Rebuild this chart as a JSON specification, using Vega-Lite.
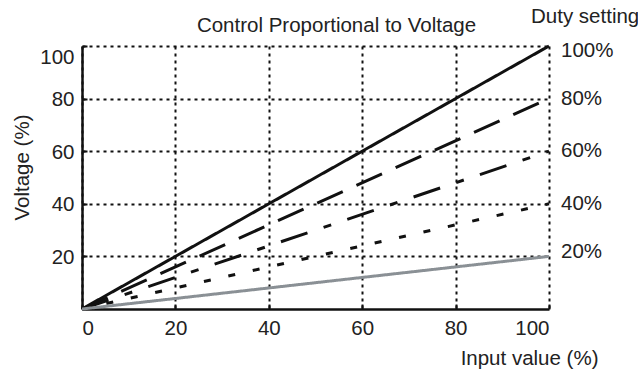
{
  "$schema": "https://vega.github.io/schema/vega-lite/v6.json",
  "width": 467,
  "height": 263,
  "autosize": {"type": "none"},
  "padding": {"left": 82, "top": 46, "right": 89, "bottom": 68},
  "background": "white",
  "config": {
    "font": "Liberation Sans",
    "view": {"stroke": null},
    "axis": {
      "grid": true,
      "gridDash": [3, 4],
      "gridColor": "#111111",
      "gridWidth": 2,
      "gridOpacity": 1,
      "domainColor": "#111111",
      "domainWidth": 2.5,
      "tickColor": "#111111",
      "tickWidth": 2,
      "tickSize": -5,
      "labelFont": "Liberation Sans",
      "labelFontSize": 20.5,
      "labelColor": "#222222",
      "titleFont": "Liberation Sans",
      "titleFontSize": 20.5,
      "titleFontWeight": "normal",
      "titleColor": "#222222"
    }
  },
  "title": {
    "text": "Control Proportional to Voltage",
    "font": "Liberation Sans",
    "fontSize": 20.5,
    "fontWeight": "normal",
    "color": "#222222",
    "anchor": "middle",
    "dx": 21,
    "offset": -45,
    "baseline": "alphabetic"
  },
  "datasets": {
    "lines": [
      {"duty": "100%", "input": 0, "voltage": 0},
      {"duty": "100%", "input": 100, "voltage": 100},
      {"duty": "80%", "input": 0, "voltage": 0},
      {"duty": "80%", "input": 100, "voltage": 80},
      {"duty": "60%", "input": 0, "voltage": 0},
      {"duty": "60%", "input": 100, "voltage": 60},
      {"duty": "40%", "input": 0, "voltage": 0},
      {"duty": "40%", "input": 100, "voltage": 40},
      {"duty": "20%", "input": 0, "voltage": 0},
      {"duty": "20%", "input": 100, "voltage": 20}
    ],
    "labels": [
      {"label": "100%", "voltage": 98},
      {"label": "80%", "voltage": 80},
      {"label": "60%", "voltage": 60},
      {"label": "40%", "voltage": 40},
      {"label": "20%", "voltage": 21.5}
    ],
    "header": [
      {"label": "Duty setting", "voltage": 111}
    ]
  },
  "layer": [
    {
      "data": {"name": "lines"},
      "mark": {"type": "line", "strokeCap": "butt"},
      "encoding": {
        "x": {
          "field": "input",
          "type": "quantitative",
          "scale": {"domain": [0, 100]},
          "axis": {
            "values": [0, 20, 40, 60, 80, 100],
            "title": "Input value (%)",
            "titleX": 516,
            "titleY": 49,
            "titleAlign": "right",
            "titleBaseline": "middle",
            "titleAnchor": null,
            "labelBaseline": "middle",
            "labelPadding": 24,
            "labelFlush": true
          }
        },
        "y": {
          "field": "voltage",
          "type": "quantitative",
          "scale": {"domain": [0, 100]},
          "axis": {
            "values": [20, 40, 60, 80, 100],
            "title": "Voltage (%)",
            "titleX": -60,
            "titleY": 121,
            "titleAngle": -90,
            "titleAlign": "center",
            "titleBaseline": "middle",
            "titleAnchor": null,
            "labelPadding": 13,
            "labelFlush": true,
            "labelOffset": 1
          }
        },
        "color": {
          "field": "duty",
          "type": "nominal",
          "scale": {"domain": ["100%", "80%", "60%", "40%", "20%"], "range": ["#111111", "#111111", "#111111", "#111111", "#8a9095"]},
          "legend": null
        },
        "strokeDash": {
          "field": "duty",
          "type": "nominal",
          "scale": {"domain": ["100%", "80%", "60%", "40%", "20%"], "range": [[1, 0], [28, 15], [28, 17, 8, 17], [7, 18], [1, 0]]},
          "legend": null
        },
        "strokeWidth": {
          "field": "duty",
          "type": "ordinal",
          "scale": {"domain": ["100%", "80%", "60%", "40%", "20%"], "range": [3, 3, 3, 3.5, 4]},
          "legend": null
        }
      }
    },
    {
      "data": {"name": "labels"},
      "mark": {"type": "text", "align": "left", "baseline": "middle", "dx": 12, "fontSize": 20.5, "font": "Liberation Sans", "color": "#222222"},
      "encoding": {
        "x": {"datum": 100, "type": "quantitative"},
        "y": {"field": "voltage", "type": "quantitative"},
        "text": {"field": "label"}
      }
    },
    {
      "data": {"name": "header"},
      "mark": {"type": "text", "align": "left", "baseline": "middle", "dx": -18, "fontSize": 20.5, "font": "Liberation Sans", "color": "#222222"},
      "encoding": {
        "x": {"datum": 100, "type": "quantitative"},
        "y": {"field": "voltage", "type": "quantitative"},
        "text": {"field": "label"}
      }
    }
  ]
}
